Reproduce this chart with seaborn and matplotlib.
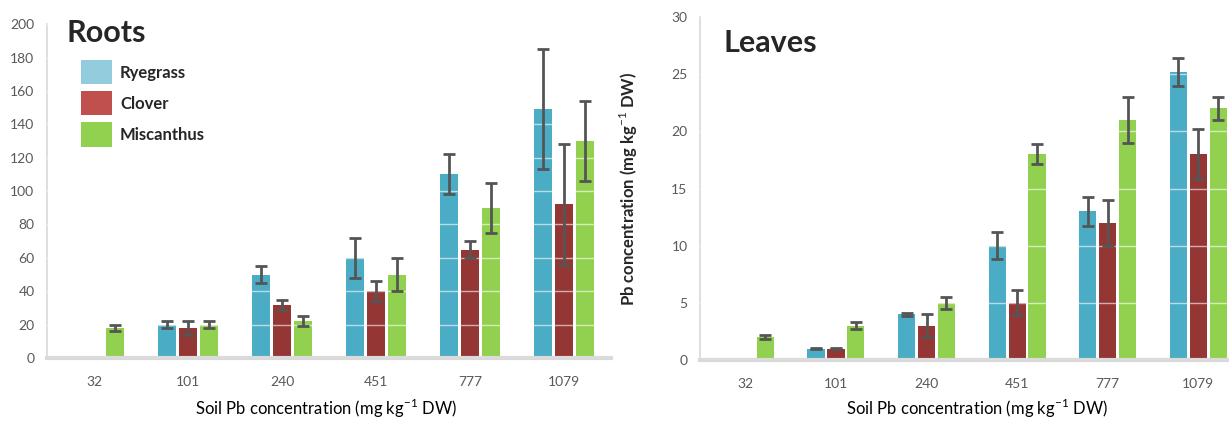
import numpy as np
import pandas as pd
import matplotlib
matplotlib.use("Agg")
import matplotlib.pyplot as plt
from matplotlib.patches import Patch
import seaborn as sns

# -------------------------------
# Data
# -------------------------------
soil = ["32", "101", "240", "451", "777", "1079"]
species = ["Ryegrass", "Clover", "Miscanthus"]

roots_rye = [0, 20, 50, 60, 110, 149]
roots_clover = [0, 18, 32, 40, 65, 92]
roots_misc = [18, 20, 22, 50, 90, 130]
roots_rye_err = [0, 2, 5, 12, 12, 36]
roots_clover_err = [0, 4, 3, 6, 5, 36]
roots_misc_err = [2, 2, 3, 10, 15, 24]

leaves_rye = [0, 1, 4, 10, 13, 25.2]
leaves_clover = [0, 1, 3, 5, 12, 18]
leaves_misc = [2, 3, 5, 18, 21, 22]
leaves_rye_err = [0, 0.05, 0.15, 1.2, 1.3, 1.2]
leaves_clover_err = [0, 0.05, 1.0, 1.1, 2.0, 2.2]
leaves_misc_err = [0.15, 0.3, 0.5, 0.9, 2.0, 1.0]

bar_colors = ["#4BACC6", "#943634", "#92D050"]
legend_colors = ["#93CDDD", "#C0504D", "#92D050"]


def long_df(rye, clover, misc):
    rows = []
    for sp, vals in zip(species, [rye, clover, misc]):
        for s, v in zip(soil, vals):
            rows.append({"soil": s, "species": sp, "value": v})
    return pd.DataFrame(rows)


sns.set_style("white")
plt.rcParams["font.family"] = ["Lato", "DejaVu Sans"]
plt.rcParams["mathtext.fontset"] = "custom"
plt.rcParams["mathtext.rm"] = "Lato"

fig = plt.figure(figsize=(12.29, 4.21), dpi=100)
ax1 = fig.add_axes([0.0382, 0.1496, 0.459, 0.793])
ax2 = fig.add_axes([0.5696, 0.1449, 0.4423, 0.8147])

panels = [
    (ax1, long_df(roots_rye, roots_clover, roots_misc),
     [roots_rye_err, roots_clover_err, roots_misc_err], 200, 20),
    (ax2, long_df(leaves_rye, leaves_clover, leaves_misc),
     [leaves_rye_err, leaves_clover_err, leaves_misc_err], 30, 5),
]

for ax, df, errs, ymax, step in panels:
    sns.barplot(data=df, x="soil", y="value", hue="species", order=soil,
                hue_order=species, palette=bar_colors, saturation=1,
                width=0.66, gap=0.14, errorbar=None, linewidth=0,
                legend=False, ax=ax)

    # error bars on top of each bar
    for cont, err in zip(ax.containers, errs):
        for bar, e in zip(cont, err):
            if e == 0:
                continue
            xc = bar.get_x() + bar.get_width() / 2
            ax.errorbar(xc, bar.get_height(), yerr=e, color="#555555",
                        elinewidth=2, capsize=4, capthick=2, zorder=4)

    ax.set_ylim(0, ymax)
    ax.set_yticks(np.arange(0, ymax + step, step))
    ax.set_xlim(-0.5, 5.5)
    ax.yaxis.grid(True, color="white", alpha=0.6, lw=1)
    ax.set_axisbelow(False)
    for sp in ["top", "right"]:
        ax.spines[sp].set_visible(False)
    ax.spines["left"].set_color("#D9D9D9")
    ax.spines["left"].set_linewidth(1.2)
    ax.spines["bottom"].set_color("#D9D9D9")
    ax.spines["bottom"].set_linewidth(3)
    ax.tick_params(axis="both", length=0, labelsize=10, colors="#595959")
    ax.tick_params(axis="x", pad=13)
    ax.tick_params(axis="y", pad=9)
    ax.set_xlabel("Soil Pb concentration (mg kg$^{-1}$ DW)", fontsize=12,
                  color="black")
    ax.set_ylabel("")

ax1.xaxis.set_label_coords(0.495, -0.115)
ax2.xaxis.set_label_coords(0.51, -0.108)
ax2.set_ylabel("Pb concentration (mg kg$^{-1}$ DW)", fontsize=12,
               fontweight="bold")
ax2.yaxis.set_label_coords(-0.11, 0.5)

ax1.text(0.035, 0.973, "Roots", transform=ax1.transAxes, fontsize=22,
         fontweight="bold", va="center", ha="left")
ax2.text(0.044, 0.924, "Leaves", transform=ax2.transAxes, fontsize=22,
         fontweight="bold", va="center", ha="left")

handles = [Patch(facecolor=c, edgecolor="none", label=s)
           for c, s in zip(legend_colors, species)]
ax1.legend(handles=handles, loc="upper left", bbox_to_anchor=(0.06, 0.892),
           frameon=False, borderpad=0, borderaxespad=0, handlelength=1.85,
           handleheight=1.85, labelspacing=0.42, handletextpad=0.5,
           prop={"size": 12, "weight": "bold"})

plt.savefig("out.png", dpi=100)
